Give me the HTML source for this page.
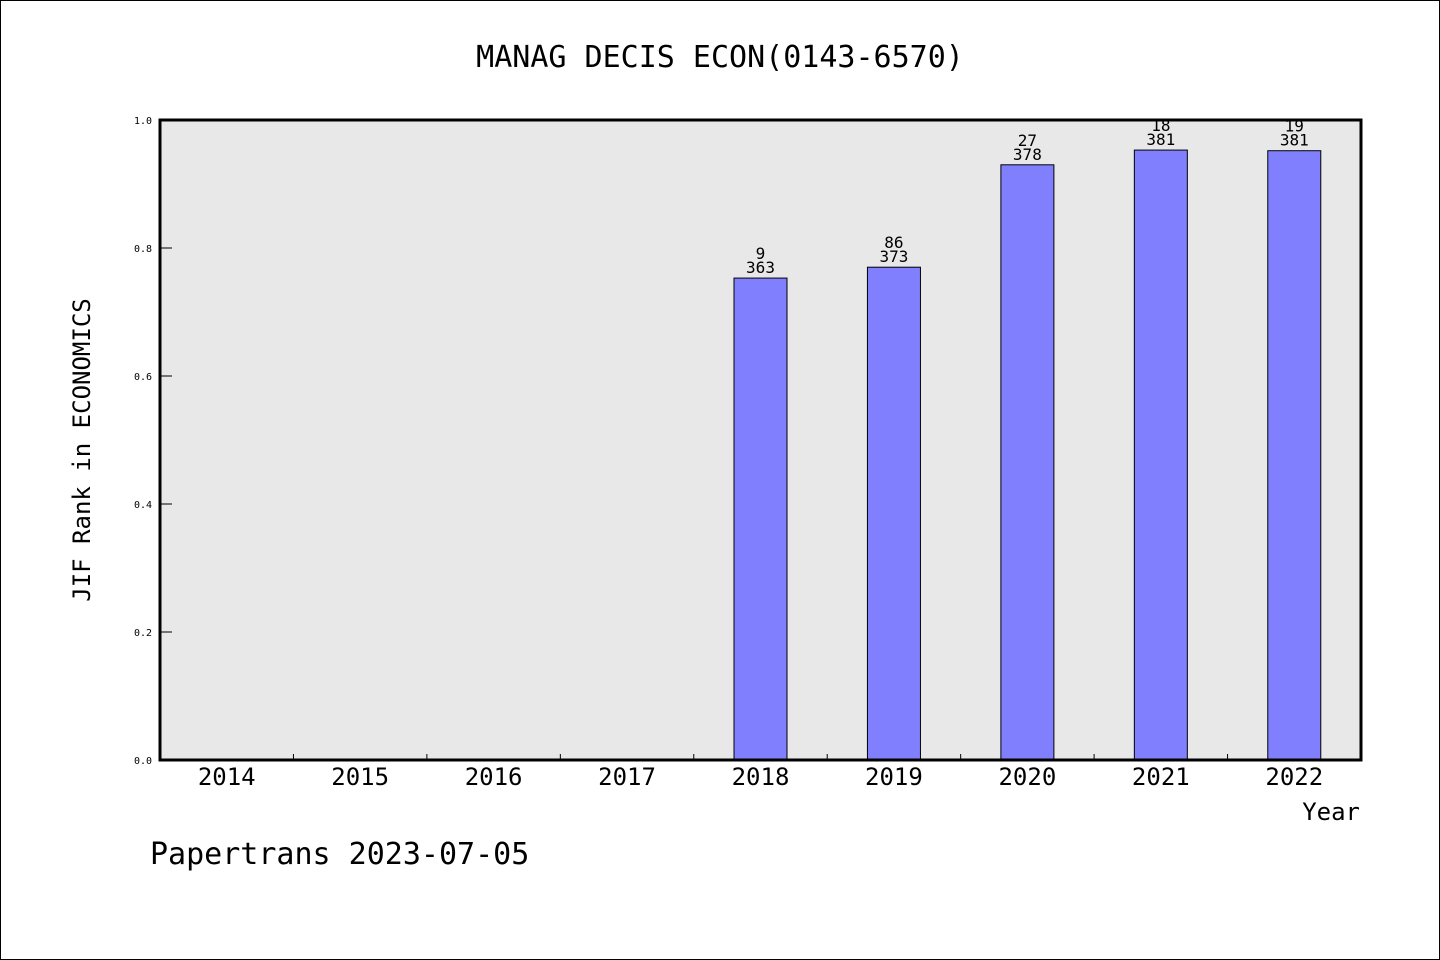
<!DOCTYPE html>
<html><head><meta charset="utf-8"><style>
html,body{margin:0;padding:0;background:#fff}
svg{display:block}
text{font-family:"WenQuanYi Zen Hei","DejaVu Sans Mono","Liberation Mono",monospace}
</style></head><body>
<svg width="1440" height="960" xmlns="http://www.w3.org/2000/svg">
<rect x="0.5" y="0.5" width="1439" height="959" fill="#fff" stroke="#000"/>
<text x="720" y="67" font-size="30" text-anchor="middle">MANAG DECIS ECON(0143-6570)</text>
<rect x="160" y="120" width="1201" height="640" fill="#e8e8e8"/>
<g id="ticks"></g>
<g id="bars"></g>
<rect x="160" y="120" width="1201" height="640" fill="none" stroke="#000" stroke-width="3"/>
<text transform="translate(90,450) rotate(-90)" font-size="24" text-anchor="middle">JIF Rank in ECONOMICS</text>
<text x="1360" y="820" font-size="24" text-anchor="end">Year</text>
<text x="150" y="864" font-size="30">Papertrans 2023-07-05</text>
</svg>
<script>
const years=["2014","2015","2016","2017","2018","2019","2020","2021","2022"];
const values=[null,null,null,null,0.753,0.770,0.930,0.953,0.952];
const rankTop=["","","","","9","86","27","18","19"];
const rankBottom=["","","","","363","373","378","381","381"];
const yTicks=[0,0.2,0.4,0.6,0.8,1.0];
const X0=160,W=1201,Y0=760,H=640,ns="http://www.w3.org/2000/svg";
const band=W/years.length;
const xs=i=>X0+band*(i+0.5);
const ys=v=>Y0-v*H;
function mk(t,a,p){const e=document.createElementNS(ns,t);for(const k in a)e.setAttribute(k,a[k]);p.appendChild(e);return e;}
const tg=document.getElementById('ticks'),bg=document.getElementById('bars');
yTicks.forEach(v=>{
 const l=mk('line',{x1:X0,x2:X0+12,y1:ys(v),y2:ys(v),stroke:'#000'},tg);
 
 
 const t=mk('text',{x:X0-8,y:ys(v)+4,'font-size':10,'text-anchor':'end'},tg);t.textContent=v.toFixed(1);
 
 
});
years.forEach((y,i)=>{
 if(i>0){const l=mk('line',{x1:X0+band*i,x2:X0+band*i,y1:Y0,y2:Y0-6,stroke:'#000'},tg);
 
 }
 const t=mk('text',{x:xs(i),y:785,'font-size':24,'text-anchor':'middle'},tg);t.textContent=y;
 
 
 const v=values[i];if(v==null)return;
 const r=mk('rect',{x:xs(i)-26.5,y:ys(v),width:53,height:v*H,fill:'#8080ff',stroke:'#000','stroke-width':1},bg);
 
 
 const a=mk('text',{x:xs(i),y:ys(v)-19,'font-size':16,'text-anchor':'middle'},bg);a.textContent=rankTop[i];
 
 
 const b=mk('text',{x:xs(i),y:ys(v)-5,'font-size':16,'text-anchor':'middle'},bg);b.textContent=rankBottom[i];
 
 
});
</script>
</body></html>
